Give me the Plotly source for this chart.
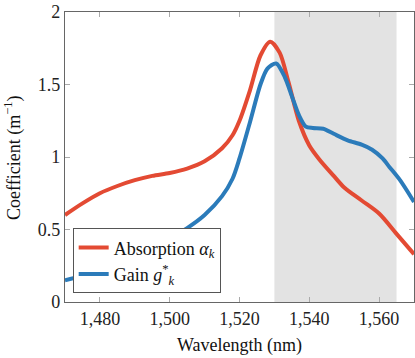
import plotly.graph_objects as go

# absorption coefficient (red)
abs_wl = [1470, 1475, 1480, 1485, 1490, 1495, 1500, 1505, 1510, 1515, 1518, 1520,
          1523, 1526, 1528.8, 1531.5, 1534, 1537, 1540, 1543, 1547, 1550, 1555, 1560,
          1565, 1570]
abs_val = [0.60, 0.68, 0.75, 0.80, 0.84, 0.87, 0.89, 0.92, 0.97, 1.06, 1.15, 1.25,
           1.46, 1.70, 1.795, 1.72, 1.52, 1.25, 1.08, 0.98, 0.87, 0.79, 0.70, 0.61,
           0.47, 0.33]

# gain coefficient (blue)
gain_wl = [1470, 1475, 1480, 1485, 1490, 1495, 1500, 1505, 1510, 1515, 1518, 1520,
           1523, 1526, 1528, 1530.5, 1533, 1535, 1537, 1539, 1541, 1544, 1547, 1551,
           1555, 1558, 1561, 1563, 1566, 1570]
gain_val = [0.15, 0.18, 0.22, 0.27, 0.33, 0.39, 0.44, 0.51, 0.60, 0.73, 0.85, 0.99,
            1.24, 1.50, 1.61, 1.645, 1.55, 1.42, 1.29, 1.21, 1.20, 1.195, 1.16, 1.115,
            1.085, 1.05, 0.99, 0.93, 0.84, 0.69]

band = [1530, 1565]  # shaded C-band
x_ticks = [1480, 1500, 1520, 1540, 1560]

font = "Liberation Serif"

fig = go.Figure()

fig.add_vrect(x0=band[0], x1=band[1], fillcolor="#e3e3e3", line_width=0, layer="below")

fig.add_trace(go.Scatter(
    x=abs_wl, y=abs_val, mode="lines", name="Absorption <i>α</i><sub><i>k</i></sub>",
    line=dict(color="#e34a33", width=4, shape="spline", smoothing=0.8)
))
fig.add_trace(go.Scatter(
    x=gain_wl, y=gain_val, mode="lines", name="Gain <i>g</i><sup>*</sup><sub><i>k</i></sub>",
    line=dict(color="#2b7bba", width=4, shape="spline", smoothing=0.8)
))

axis_common = dict(
    showline=True, linecolor="#666666", linewidth=1.3, mirror="ticks",
    ticks="inside", ticklen=5, tickcolor="#aaaaaa", tickwidth=1,
    showgrid=False, zeroline=False,
    tickfont=dict(family=font, size=18, color="#222222"),
    title_font=dict(family=font, size=18, color="#111111"),
)

fig.update_xaxes(range=[1470, 1570], tickvals=x_ticks, tickformat=",d",
                 title_text="Wavelength (nm)", title_standoff=10, **axis_common)
fig.update_yaxes(range=[0, 2], dtick=0.5, **axis_common)

# y title placed by hand so it sits closer to the page edge, as in the original
fig.add_annotation(
    text="Coefficient (m<sup>−1</sup>)", textangle=-90,
    xref="paper", yref="paper", x=-0.149, y=0.5,
    xanchor="center", yanchor="middle", showarrow=False,
    font=dict(family=font, size=18, color="#111111"),
)

fig.update_layout(
    width=415, height=358,
    margin=dict(l=65, r=1, t=12, b=56, autoexpand=False),
    paper_bgcolor="white", plot_bgcolor="white",
    showlegend=True,
    legend=dict(
        x=0.022, y=0.03, xanchor="left", yanchor="bottom",
        bgcolor="white", bordercolor="#555555", borderwidth=1,
        font=dict(family=font, size=18, color="#111111"),
        tracegroupgap=0, itemwidth=30,
    ),
)

fig.write_html("out.html", config={"displayModeBar": False},
               post_script="document.body.style.margin='0';")
